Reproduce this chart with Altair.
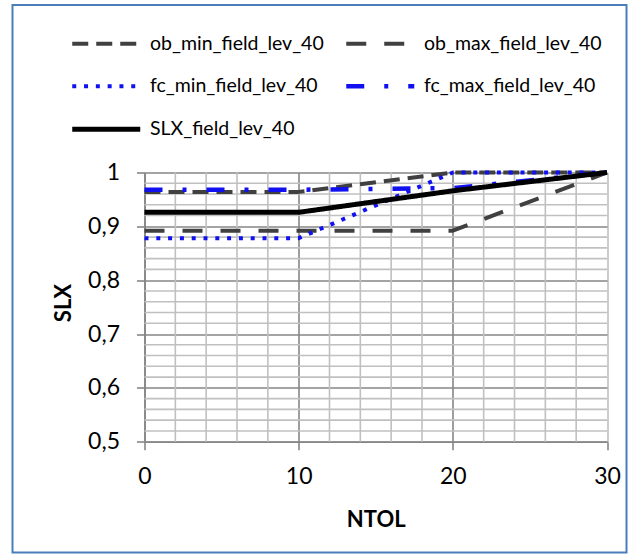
import altair as alt
import pandas as pd

# NTOL steps and the SLX curves for level 40
ntol = [0, 10, 20, 30]
ob_min = [0.964, 0.964, 1.0, 1.0]
ob_max = [0.892, 0.892, 0.892, 1.0]
fc_min = [0.878, 0.878, 1.0, 1.0]
fc_max = [0.968, 0.968, 0.971, 1.0]
slx = [0.926, 0.926, 0.966, 1.0]

series_names = [
    "ob_min_field_lev_40",
    "ob_max_field_lev_40",
    "fc_min_field_lev_40",
    "fc_max_field_lev_40",
    "SLX_field_lev_40",
]
series_values = [ob_min, ob_max, fc_min, fc_max, slx]
series_colors = ["#404040", "#404040", "#1010F0", "#1010F0", "#000000"]
series_dash = [[16, 8], [20, 18], [4, 7.8], [18, 20, 4, 20], [1, 0]]
series_width = [4, 4, 4, 4.5, 5]

# axis ticks and the light minor gridlines between them
x_ticks = [0, 10, 20, 30]
y_ticks = [0.5, 0.6, 0.7, 0.8, 0.9, 1.0]
x_minor = [2, 4, 6, 8, 12, 14, 16, 18, 22, 24, 26, 28]
y_minor = [0.52, 0.54, 0.56, 0.58, 0.62, 0.64, 0.66, 0.68,
           0.72, 0.74, 0.76, 0.78, 0.82, 0.84, 0.86, 0.88,
           0.92, 0.94, 0.96, 0.98]

rows = []
for name, vals in zip(series_names, series_values):
    for x, v in zip(ntol, vals):
        rows.append({"series": name, "NTOL": x, "SLX": v})
df = pd.DataFrame(rows)

FONT = "Lato"
MAJOR = "#868686"
MINOR = "#C0C0C0"

x_scale = alt.Scale(domain=[0, 30], nice=False, zero=False)
y_scale = alt.Scale(domain=[0.5, 1.0], nice=False, zero=False)

x_axis = alt.Axis(
    values=x_ticks,
    title="NTOL",
    grid=True,
    gridColor=alt.condition("datum.value == 30", alt.value(MINOR), alt.value(MAJOR)),
    gridWidth=1.6,
    domainColor=MAJOR,
    domainWidth=1.6,
    tickColor=MAJOR,
    tickWidth=1.6,
    tickSize=8,
    labelFont=FONT,
    labelFontSize=23,
    labelColor="#000000",
    labelBaseline="alphabetic",
    labelPadding=34,
    labelFlush=False,
    titleFont=FONT,
    titleFontSize=22,
    titleFontWeight="bold",
    titleColor="#000000",
    titleBaseline="alphabetic",
    titleY=85,
)

y_axis = alt.Axis(
    values=y_ticks,
    title="SLX",
    labelExpr="datum.value == 1 ? '1' : replace(format(datum.value, '.1f'), '.', ',')",
    grid=True,
    gridColor=MAJOR,
    gridWidth=1.6,
    domainColor=MAJOR,
    domainWidth=1.6,
    tickColor=MAJOR,
    tickWidth=1.6,
    tickSize=8,
    labelFont=FONT,
    labelFontSize=23,
    labelColor="#000000",
    labelPadding=17,
    labelFlush=False,
    titleFont=FONT,
    titleFontSize=22,
    titleFontWeight="bold",
    titleColor="#000000",
    titleAngle=270,
    titleBaseline="alphabetic",
    titleAlign="center",
    titleX=-74,
    titleY=130,
)

frame = alt.Chart(pd.DataFrame({"k": [0]})).mark_rect(
    fill="transparent", stroke="#4A7EBB", strokeWidth=2
).encode(
    x=alt.value(-132), x2=alt.value(482), y=alt.value(-167.5), y2=alt.value(380)
)

grid_x = alt.Chart(pd.DataFrame({"NTOL": x_minor})).mark_rule(
    color=MINOR, strokeWidth=1.6
).encode(x=alt.X("NTOL:Q", scale=x_scale, axis=x_axis))

grid_y = alt.Chart(pd.DataFrame({"SLX": y_minor})).mark_rule(
    color=MINOR, strokeWidth=1.6
).encode(y=alt.Y("SLX:Q", scale=y_scale, axis=y_axis))

legend = alt.Legend(
    title=None,
    orient="none",
    legendX=-48,
    legendY=-139,
    direction="horizontal",
    columns=2,
    columnPadding=12,
    rowPadding=22,
    padding=0,
    symbolType="M-5,0H5",
    symbolSize=185,
    labelOffset=34,
    labelFont=FONT,
    labelFontSize=19.5,
    labelColor="#000000",
    labelLimit=0,
)

lines = alt.Chart(df).mark_line(strokeJoin="round").encode(
    x=alt.X("NTOL:Q", scale=x_scale, axis=x_axis),
    y=alt.Y("SLX:Q", scale=y_scale, axis=y_axis),
    color=alt.Color("series:N", scale=alt.Scale(domain=series_names, range=series_colors), legend=legend),
    strokeDash=alt.StrokeDash("series:N", scale=alt.Scale(domain=series_names, range=series_dash), legend=legend),
    strokeWidth=alt.StrokeWidth("series:N", scale=alt.Scale(type="ordinal", domain=series_names, range=series_width), legend=legend),
)

chart = alt.layer(frame, grid_x, grid_y, lines).properties(
    width=462.5,
    height=269.2,
    padding={"left": 144.5, "top": 172.5, "right": 26, "bottom": 118.3},
    autosize=alt.AutoSizeParams(type="none"),
    background="#FFFFFF",
).configure_view(stroke=None)

chart.save("out.html", embed_options={"renderer": "svg", "actions": False})
